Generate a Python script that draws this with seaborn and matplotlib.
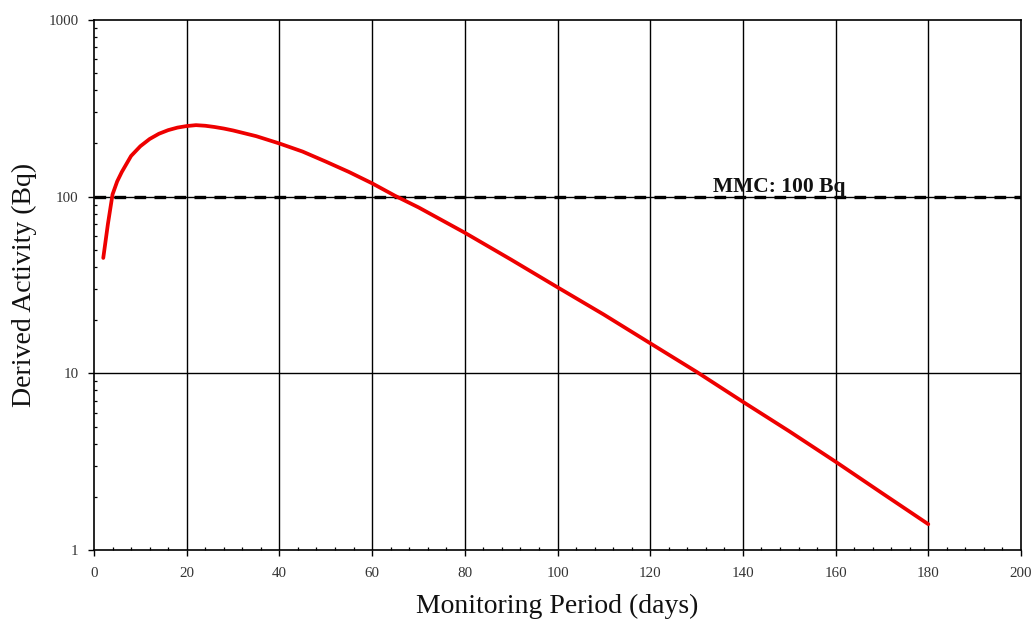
import numpy as np
import pandas as pd
import seaborn as sns
import matplotlib
matplotlib.use("Agg")
import matplotlib.pyplot as plt
from matplotlib.ticker import FixedLocator, FixedFormatter, LogLocator, MultipleLocator, NullFormatter

# ---- data ----
days = [2, 3, 4, 5, 6, 8, 10, 12, 14, 16, 18, 20, 22, 24, 26, 28, 30, 35, 40, 45,
        50, 55, 60, 65, 70, 80, 90, 100, 110, 120, 130, 140, 150, 160, 170, 180]
activity = [45, 70, 103, 122, 138, 170, 193, 212, 227, 238, 246, 251, 254, 252, 248, 243, 237, 220, 200, 180,
            158, 138, 119, 101, 87, 62.5, 44, 30.7, 21.5, 14.8, 10.2, 6.9, 4.7, 3.16, 2.1, 1.4]
mmc_value = 100
mmc_label = "MMC: 100 Bq"
x_ticks = [0, 20, 40, 60, 80, 100, 120, 140, 160, 180, 200]
y_ticks = [1, 10, 100, 1000]
y_tick_labels = ["1", "10", "100", "1000"]
x_label = "Monitoring Period (days)"
y_label = "Derived Activity (Bq)"

sns.set_theme(style="white")
plt.rcParams["font.family"] = ["Liberation Serif", "DejaVu Serif"]

fig = plt.figure(figsize=(10.33, 6.29), dpi=100)
ax = fig.add_axes([94 / 1033, 1 - 550 / 629, (1021 - 94) / 1033, (550 - 20) / 629])

df = pd.DataFrame({"days": days, "activity": activity})

ax.set_yscale("log")
ax.set_xlim(0, 200)
ax.set_ylim(1, 1000)

# grid
for xv in x_ticks[1:-1]:
    ax.axvline(xv, color="black", lw=1.0, zorder=1)
for yv in y_ticks[1:-1]:
    ax.axhline(yv, color="black", lw=1.0, zorder=1)

# MMC dashed line
ax.axhline(mmc_value, color="black", lw=2.4, ls=(0, (3.5, 2.5)), zorder=2)

sns.lineplot(data=df, x="days", y="activity", ax=ax, color="#ee0000", lw=2.7,
             estimator=None, sort=False, zorder=3)

ax.text(133.5, mmc_value * 10 ** (5 / 176.67), mmc_label, fontsize=15.5, fontweight="bold",
        ha="left", va="baseline", color="#111111", zorder=4)

# ticks
ax.xaxis.set_major_locator(FixedLocator(x_ticks))
ax.xaxis.set_minor_locator(MultipleLocator(4))
ax.yaxis.set_major_locator(FixedLocator(y_ticks))
ax.yaxis.set_major_formatter(FixedFormatter(y_tick_labels))
ax.yaxis.set_minor_locator(LogLocator(base=10, subs=np.arange(2, 10)))
ax.yaxis.set_minor_formatter(NullFormatter())

ax.tick_params(axis="both", which="major", direction="out", length=4.5, width=1.0,
               color="black", labelsize=10.8, labelcolor="#333333")
ax.tick_params(axis="x", which="major", pad=7.5)
ax.tick_params(axis="y", which="major", pad=6.5)
ax.tick_params(axis="both", which="minor", direction="in", length=2.5, width=0.9, color="black")
ax.tick_params(bottom=True, left=True, top=False, right=False, which="both")

for s in ax.spines.values():
    s.set_color("black")
    s.set_linewidth(1.2)
    s.set_visible(True)

ax.set_xlabel(x_label, fontsize=20, labelpad=10, color="#111111")
ax.set_ylabel(y_label, fontsize=20, labelpad=8, color="#111111")
ax.grid(False)

fig.savefig("out.png", dpi=100, facecolor="white")
